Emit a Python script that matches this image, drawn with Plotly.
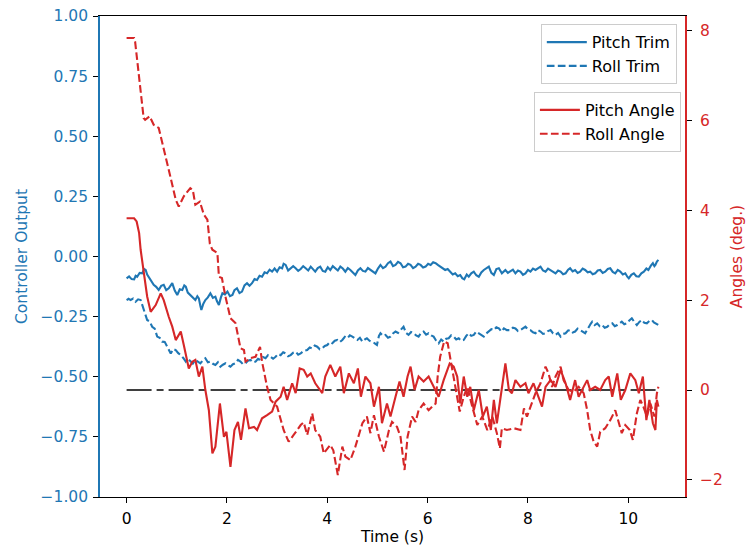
import plotly.graph_objects as go

BLUE = "#1f77b4"
RED = "#d62728"

# ---- Pitch Trim (controller output, left axis) ----
pitch_trim_t = [0.00, 0.05, 0.10, 0.15, 0.18, 0.21, 0.26, 0.31, 0.35, 0.38, 0.41, 0.44, 0.49, 0.54, 0.59,
                0.64, 0.69, 0.74, 0.79, 0.84, 0.88, 0.91, 0.96, 1.01, 1.06, 1.11, 1.15, 1.18, 1.22, 1.27,
                1.32, 1.37, 1.41, 1.44, 1.47, 1.49, 1.53, 1.57, 1.62, 1.67, 1.72, 1.77, 1.80, 1.84, 1.88,
                1.91, 1.96, 2.01, 2.06, 2.11, 2.15, 2.20, 2.25, 2.30, 2.35, 2.40, 2.45, 2.50, 2.55, 2.60,
                2.65, 2.70, 2.75, 2.80, 2.85, 2.90, 2.95, 3.00, 3.05, 3.10, 3.13, 3.17, 3.22, 3.27, 3.32,
                3.37, 3.42, 3.47, 3.52, 3.57, 3.62, 3.67, 3.72, 3.76, 3.81, 3.86, 3.91, 3.96, 4.01, 4.06,
                4.11, 4.16, 4.21, 4.26, 4.31, 4.36, 4.41, 4.46, 4.51, 4.56, 4.61, 4.66, 4.71, 4.76, 4.81,
                4.86, 4.91, 4.96, 5.01, 5.06, 5.11, 5.16, 5.21, 5.26, 5.31, 5.36, 5.41, 5.46, 5.51, 5.56,
                5.61, 5.66, 5.71, 5.76, 5.81, 5.86, 5.91, 5.96, 6.01, 6.06, 6.11, 6.16, 6.21, 6.25, 6.30,
                6.35, 6.40, 6.45, 6.50, 6.55, 6.60, 6.65, 6.69, 6.73, 6.78, 6.82, 6.87, 6.92, 6.97, 7.02,
                7.07, 7.12, 7.17, 7.22, 7.27, 7.32, 7.37, 7.42, 7.48, 7.55, 7.60, 7.65, 7.70, 7.75, 7.80,
                7.85, 7.90, 7.95, 8.00, 8.05, 8.10, 8.15, 8.20, 8.25, 8.30, 8.35, 8.40, 8.45, 8.50, 8.55,
                8.60, 8.65, 8.70, 8.75, 8.80, 8.84, 8.89, 8.94, 8.99, 9.04, 9.09, 9.14, 9.19, 9.24, 9.29,
                9.34, 9.39, 9.44, 9.49, 9.54, 9.59, 9.64, 9.69, 9.74, 9.79, 9.84, 9.89, 9.94, 9.98, 10.01,
                10.06, 10.11, 10.16, 10.21, 10.26, 10.31, 10.36, 10.40, 10.45, 10.49, 10.52, 10.54, 10.57, 10.60]
pitch_trim = [-0.091, -0.083, -0.094, -0.095, -0.080, -0.084, -0.068, -0.070, -0.052, -0.056, -0.075, -0.084,
              -0.100, -0.118, -0.126, -0.139, -0.122, -0.118, -0.140, -0.132, -0.120, -0.111, -0.142, -0.160,
              -0.136, -0.139, -0.120, -0.125, -0.150, -0.160, -0.168, -0.181, -0.165, -0.174, -0.205, -0.222,
              -0.196, -0.181, -0.170, -0.153, -0.172, -0.167, -0.185, -0.202, -0.170, -0.153, -0.158, -0.146,
              -0.165, -0.160, -0.140, -0.132, -0.152, -0.146, -0.120, -0.111, -0.122, -0.111, -0.094, -0.098,
              -0.080, -0.084, -0.066, -0.070, -0.055, -0.063, -0.050, -0.063, -0.045, -0.049, -0.030, -0.035,
              -0.058, -0.049, -0.040, -0.049, -0.060, -0.052, -0.040, -0.049, -0.058, -0.042, -0.055, -0.063,
              -0.048, -0.042, -0.060, -0.063, -0.045, -0.056, -0.040, -0.049, -0.058, -0.042, -0.050, -0.063,
              -0.048, -0.056, -0.066, -0.077, -0.058, -0.049, -0.060, -0.063, -0.048, -0.056, -0.062, -0.070,
              -0.050, -0.035, -0.048, -0.042, -0.028, -0.021, -0.040, -0.035, -0.022, -0.028, -0.045, -0.042,
              -0.030, -0.035, -0.048, -0.042, -0.030, -0.035, -0.046, -0.042, -0.030, -0.035, -0.024, -0.028,
              -0.036, -0.042, -0.050, -0.056, -0.052, -0.063, -0.075, -0.070, -0.082, -0.077, -0.090, -0.095,
              -0.075, -0.084, -0.070, -0.063, -0.078, -0.084, -0.066, -0.056, -0.050, -0.042, -0.068, -0.077,
              -0.052, -0.049, -0.070, -0.056, -0.068, -0.063, -0.055, -0.070, -0.058, -0.063, -0.076, -0.070,
              -0.056, -0.063, -0.050, -0.056, -0.048, -0.042, -0.058, -0.063, -0.050, -0.056, -0.064, -0.070,
              -0.058, -0.063, -0.074, -0.070, -0.055, -0.049, -0.062, -0.056, -0.068, -0.063, -0.050, -0.056,
              -0.066, -0.063, -0.074, -0.070, -0.058, -0.056, -0.068, -0.063, -0.052, -0.049, -0.064, -0.070,
              -0.056, -0.063, -0.075, -0.070, -0.084, -0.091, -0.076, -0.070, -0.082, -0.084, -0.070, -0.063,
              -0.050, -0.056, -0.038, -0.028, -0.040, -0.035, -0.021, -0.014]

# ---- Roll Trim (controller output, left axis) ----
roll_trim_t = [0.00, 0.04, 0.08, 0.13, 0.18, 0.23, 0.28, 0.31, 0.34, 0.38, 0.41, 0.46, 0.51, 0.56, 0.61,
               0.66, 0.71, 0.76, 0.81, 0.85, 0.88, 0.93, 0.98, 1.03, 1.08, 1.13, 1.18, 1.22, 1.27, 1.32,
               1.37, 1.42, 1.47, 1.52, 1.57, 1.62, 1.67, 1.72, 1.77, 1.82, 1.87, 1.92, 1.97, 2.02, 2.07,
               2.12, 2.17, 2.22, 2.27, 2.32, 2.37, 2.42, 2.47, 2.52, 2.57, 2.62, 2.67, 2.72, 2.77, 2.82,
               2.87, 2.92, 2.97, 3.02, 3.07, 3.12, 3.17, 3.22, 3.27, 3.32, 3.37, 3.42, 3.47, 3.53, 3.60,
               3.65, 3.70, 3.75, 3.80, 3.85, 3.90, 3.95, 4.00, 4.05, 4.10, 4.15, 4.20, 4.25, 4.30, 4.35,
               4.40, 4.45, 4.50, 4.55, 4.60, 4.65, 4.70, 4.75, 4.79, 4.84, 4.89, 4.94, 4.99, 5.03, 5.06,
               5.11, 5.16, 5.21, 5.26, 5.31, 5.36, 5.41, 5.46, 5.49, 5.52, 5.57, 5.62, 5.67, 5.72, 5.77,
               5.82, 5.87, 5.92, 5.97, 6.02, 6.07, 6.12, 6.17, 6.22, 6.27, 6.32, 6.37, 6.42, 6.47, 6.52,
               6.57, 6.62, 6.67, 6.72, 6.77, 6.82, 6.87, 6.92, 6.97, 7.02, 7.07, 7.12, 7.17, 7.22, 7.27,
               7.32, 7.37, 7.42, 7.47, 7.52, 7.58, 7.65, 7.70, 7.75, 7.80, 7.85, 7.90, 7.95, 8.00, 8.05,
               8.10, 8.15, 8.20, 8.25, 8.30, 8.35, 8.40, 8.45, 8.50, 8.55, 8.60, 8.65, 8.70, 8.75, 8.80,
               8.84, 8.89, 8.94, 8.99, 9.04, 9.09, 9.14, 9.18, 9.21, 9.25, 9.28, 9.33, 9.38, 9.43, 9.48,
               9.53, 9.58, 9.63, 9.68, 9.73, 9.78, 9.83, 9.87, 9.92, 9.97, 10.02, 10.07, 10.12, 10.17, 10.22,
               10.27, 10.32, 10.37, 10.42, 10.47, 10.51, 10.54, 10.57, 10.60]
roll_trim = [-0.181, -0.176, -0.181, -0.175, -0.188, -0.178, -0.181, -0.200, -0.222, -0.248, -0.264, -0.270,
             -0.292, -0.300, -0.333, -0.338, -0.354, -0.355, -0.375, -0.385, -0.403, -0.385, -0.389, -0.402,
             -0.410, -0.422, -0.437, -0.425, -0.437, -0.445, -0.430, -0.438, -0.444, -0.432, -0.423, -0.440,
             -0.437, -0.446, -0.451, -0.440, -0.458, -0.450, -0.444, -0.452, -0.458, -0.448, -0.444, -0.430,
             -0.437, -0.448, -0.444, -0.433, -0.430, -0.440, -0.437, -0.425, -0.430, -0.418, -0.423, -0.410,
             -0.417, -0.425, -0.417, -0.405, -0.410, -0.398, -0.403, -0.415, -0.410, -0.400, -0.396, -0.408,
             -0.403, -0.392, -0.389, -0.378, -0.382, -0.370, -0.375, -0.386, -0.382, -0.372, -0.368, -0.356,
             -0.361, -0.350, -0.347, -0.356, -0.347, -0.334, -0.340, -0.328, -0.333, -0.340, -0.347, -0.338,
             -0.354, -0.345, -0.340, -0.350, -0.354, -0.360, -0.368, -0.330, -0.319, -0.330, -0.326, -0.338,
             -0.333, -0.320, -0.312, -0.318, -0.306, -0.298, -0.292, -0.318, -0.326, -0.314, -0.319, -0.328,
             -0.333, -0.318, -0.312, -0.325, -0.319, -0.328, -0.333, -0.350, -0.361, -0.345, -0.354, -0.342,
             -0.340, -0.328, -0.333, -0.345, -0.340, -0.350, -0.347, -0.330, -0.319, -0.330, -0.326, -0.312,
             -0.319, -0.328, -0.333, -0.320, -0.312, -0.302, -0.306, -0.294, -0.299, -0.312, -0.299, -0.306,
             -0.306, -0.296, -0.299, -0.310, -0.306, -0.298, -0.292, -0.303, -0.306, -0.315, -0.319, -0.306,
             -0.312, -0.322, -0.319, -0.310, -0.306, -0.320, -0.326, -0.318, -0.333, -0.322, -0.319, -0.308,
             -0.306, -0.316, -0.312, -0.300, -0.306, -0.314, -0.319, -0.305, -0.292, -0.280, -0.271, -0.285,
             -0.278, -0.290, -0.285, -0.296, -0.292, -0.282, -0.278, -0.290, -0.285, -0.276, -0.271, -0.282,
             -0.278, -0.266, -0.257, -0.272, -0.285, -0.272, -0.264, -0.276, -0.278, -0.268, -0.264, -0.274,
             -0.278, -0.282, -0.285]

# ---- Pitch Angle (deg, right axis) ----
pitch_angle_t = [0.00, 0.15, 0.20, 0.25, 0.28, 0.34, 0.41, 0.48, 0.58, 0.68, 0.74, 0.84, 0.91, 0.98, 1.08,
                 1.14, 1.24, 1.31, 1.37, 1.44, 1.51, 1.57, 1.64, 1.71, 1.77, 1.86, 1.94, 1.99, 2.07, 2.15,
                 2.22, 2.28, 2.37, 2.44, 2.54, 2.60, 2.70, 2.80, 2.90, 2.97, 3.07, 3.13, 3.20, 3.30, 3.37,
                 3.45, 3.53, 3.60, 3.67, 3.76, 3.90, 3.96, 4.06, 4.16, 4.26, 4.33, 4.43, 4.53, 4.61, 4.67,
                 4.76, 4.86, 4.93, 5.03, 5.09, 5.19, 5.26, 5.36, 5.44, 5.52, 5.60, 5.66, 5.74, 5.82, 5.92,
                 6.02, 6.12, 6.22, 6.32, 6.44, 6.52, 6.59, 6.65, 6.72, 6.79, 6.85, 6.92, 7.02, 7.10, 7.18,
                 7.26, 7.32, 7.38, 7.45, 7.55, 7.62, 7.68, 7.75, 7.85, 7.95, 8.01, 8.11, 8.21, 8.28, 8.35,
                 8.45, 8.55, 8.65, 8.75, 8.84, 8.94, 9.01, 9.11, 9.18, 9.24, 9.34, 9.44, 9.54, 9.61, 9.68,
                 9.78, 9.85, 9.94, 10.04, 10.14, 10.21, 10.29, 10.36, 10.42, 10.49, 10.54, 10.57, 10.60]
pitch_angle = [3.82, 3.82, 3.75, 3.49, 3.12, 2.67, 2.08, 1.74, 1.89, 2.15, 2.00, 1.63, 1.41, 1.11, 1.30,
               1.00, 0.48, 0.63, 0.67, 0.30, 0.52, 0.00, -0.45, -1.41, -1.26, -0.30, -1.04, -0.93, -1.71, -0.89,
               -0.71, -1.11, -0.41, -0.85, -0.82, -0.89, -0.63, -0.56, -0.48, -0.26, -0.15, 0.07, -0.22, 0.15, -0.07,
               0.48, 0.45, 0.30, 0.37, 0.15, -0.07, 0.30, 0.56, 0.30, 0.52, -0.07, 0.37, 0.15, 0.48, -0.15,
               0.30, 0.15, -0.37, 0.07, -0.74, -0.30, -0.59, -0.15, 0.19, -0.15, 0.30, 0.52, 0.00, 0.30, 0.19,
               0.30, 0.07, -0.15, 0.22, 0.59, 0.52, 0.30, -0.30, 0.30, -0.15, 0.07, -0.45, 0.00, -0.59, -0.37,
               -0.89, -0.22, -0.74, -0.15, 0.59, 0.00, -0.07, 0.22, 0.07, 0.15, -0.07, 0.15, -0.15, -0.37, 0.07,
               0.22, 0.07, 0.45, 0.15, -0.22, 0.22, -0.15, 0.07, 0.22, 0.00, 0.07, 0.00, 0.22, 0.30, -0.15,
               0.37, -0.22, 0.00, 0.37, 0.22, -0.07, 0.30, -0.67, -0.22, -0.74, -0.89, -0.22, -0.37]

# ---- Roll Angle (deg, right axis) ----
roll_angle_t = [0.00, 0.15, 0.17, 0.34, 0.37, 0.46, 0.54, 0.64, 0.84, 0.98, 1.04, 1.14, 1.27, 1.32, 1.37,
                1.46, 1.54, 1.61, 1.66, 1.71, 1.81, 1.84, 1.90, 1.97, 2.07, 2.17, 2.27, 2.34, 2.37, 2.47,
                2.57, 2.66, 2.70, 2.80, 2.87, 3.00, 3.13, 3.23, 3.33, 3.47, 3.53, 3.60, 3.70, 3.76, 3.86,
                3.93, 4.06, 4.12, 4.21, 4.30, 4.36, 4.46, 4.56, 4.70, 4.79, 4.86, 4.93, 5.03, 5.13, 5.23,
                5.29, 5.39, 5.46, 5.54, 5.60, 5.69, 5.76, 5.82, 5.92, 6.02, 6.09, 6.16, 6.20, 6.25, 6.33,
                6.40, 6.47, 6.53, 6.59, 6.64, 6.72, 6.79, 6.89, 6.99, 7.09, 7.19, 7.29, 7.38, 7.44, 7.48,
                7.58, 7.72, 7.85, 7.92, 7.98, 8.08, 8.15, 8.25, 8.35, 8.41, 8.48, 8.55, 8.65, 8.71, 8.81,
                8.91, 9.01, 9.11, 9.18, 9.24, 9.31, 9.38, 9.44, 9.54, 9.64, 9.74, 9.81, 9.87, 9.94, 10.03,
                10.09, 10.17, 10.24, 10.30, 10.37, 10.44, 10.52, 10.57, 10.60]
roll_angle = [7.83, 7.83, 7.75, 6.05, 6.01, 6.09, 5.90, 5.83, 4.90, 4.23, 4.08, 4.31, 4.49, 4.45, 4.12,
              4.19, 3.90, 3.79, 3.25, 3.12, 3.05, 2.52, 2.49, 2.08, 1.60, 1.49, 0.93, 0.89, 0.63, 0.71,
              0.74, 0.96, 0.63, 0.07, -0.22, -0.37, -0.89, -1.15, -1.00, -0.78, -0.72, -1.00, -0.52, -0.89, -1.04,
              -1.41, -1.22, -1.34, -1.89, -1.26, -1.48, -1.56, -1.26, -0.74, -0.59, -0.96, -0.56, -1.04, -1.37, -0.89,
              -0.71, -0.82, -1.04, -1.78, -1.04, -0.59, -0.71, -0.45, -0.30, -0.45, -0.37, -0.30, 0.30, 0.74, 1.08,
              1.04, 0.59, 0.22, -0.15, -0.48, -0.15, 0.07, -0.37, -0.78, -0.59, -0.89, -0.59, -0.96, -1.30, -0.85,
              -0.89, -0.85, -0.89, -0.41, -0.59, -0.26, -0.07, 0.15, 0.52, 0.37, 0.07, 0.30, 0.52, 0.22, 0.00,
              -0.04, 0.07, -0.07, -0.45, -0.89, -1.15, -1.26, -0.93, -0.85, -0.67, -0.45, -0.71, -0.96, -0.78, -0.89,
              -1.11, -0.52, -0.22, -0.37, -0.59, -0.30, -0.59, -0.07, 0.07]

ref_t = [0.0, 10.6]
ref_line = [0.0, 0.0]

x_ticks = [0, 2, 4, 6, 8, 10]
y1_ticks = [-1.0, -0.75, -0.5, -0.25, 0.0, 0.25, 0.5, 0.75, 1.0]
y2_ticks = [-2, 0, 2, 4, 6, 8]

FONT = "DejaVu Sans"
FS = 15.5
DASH = "7.7px,3.3px"

fig = go.Figure()
fig.add_trace(go.Scatter(x=pitch_trim_t, y=pitch_trim, mode="lines", name="Pitch Trim",
                         line=dict(color=BLUE, width=2.1), yaxis="y", legend="legend"))
fig.add_trace(go.Scatter(x=roll_trim_t, y=roll_trim, mode="lines", name="Roll Trim",
                         line=dict(color=BLUE, width=2.1, dash=DASH), yaxis="y", legend="legend"))
fig.add_trace(go.Scatter(x=ref_t, y=ref_line, mode="lines", showlegend=False,
                         line=dict(color="black", width=1.4, dash="25px,5px,7px,5px"), yaxis="y2"))
fig.add_trace(go.Scatter(x=pitch_angle_t, y=pitch_angle, mode="lines", name="Pitch Angle",
                         line=dict(color=RED, width=2.1), yaxis="y2", legend="legend2"))
fig.add_trace(go.Scatter(x=roll_angle_t, y=roll_angle, mode="lines", name="Roll Angle",
                         line=dict(color=RED, width=2.1, dash=DASH), yaxis="y2", legend="legend2"))

legend_style = dict(bgcolor="rgba(255,255,255,0.8)", bordercolor="#cccccc", borderwidth=1,
                    font=dict(family=FONT, size=16, color="black"), xanchor="right", yanchor="top",
                    itemwidth=40)

fig.update_layout(
    width=746, height=552,
    margin=dict(l=100, r=61, t=16, b=55),
    plot_bgcolor="white", paper_bgcolor="white",
    font=dict(family=FONT, size=FS, color="black"),
    xaxis=dict(range=[-0.53, 11.13], tickvals=x_ticks, ticks="outside", ticklen=5, tickwidth=1.1,
               tickcolor="black", showline=True, linecolor="black", linewidth=1.1, mirror=True,
               showgrid=False, zeroline=False, ticklabelstandoff=2, automargin=False,
               title=dict(text="Time (s)", standoff=4, font=dict(family=FONT, size=FS, color="black")),
               tickfont=dict(family=FONT, size=FS, color="black")),
    yaxis=dict(range=[-1, 1], tickvals=y1_ticks, tickformat=".2f", ticks="outside", ticklen=5,
               tickwidth=1.1, tickcolor="black", showline=True, linecolor=BLUE, linewidth=1.6,
               showgrid=False, zeroline=False, ticklabelstandoff=2, automargin=False,
               tickfont=dict(family=FONT, size=FS, color=BLUE),
               title=dict(text="Controller Output", font=dict(family=FONT, size=FS, color=BLUE), standoff=9)),
    yaxis2=dict(range=[-2.38, 8.32], tickvals=y2_ticks, overlaying="y", side="right", anchor="x",
                ticks="outside", ticklen=5, tickwidth=1.1, tickcolor="black", showline=True,
                linecolor=RED, linewidth=1.6, showgrid=False, zeroline=False, ticklabelstandoff=5,
                automargin=False,
                tickfont=dict(family=FONT, size=FS, color=RED),
                title=dict(text="Angles (deg.)", font=dict(family=FONT, size=FS, color=RED), standoff=9)),
    legend=dict(x=0.986, y=0.983, **legend_style),
    legend2=dict(x=0.993, y=0.842, **legend_style),
)

fig.write_html("out.html")
